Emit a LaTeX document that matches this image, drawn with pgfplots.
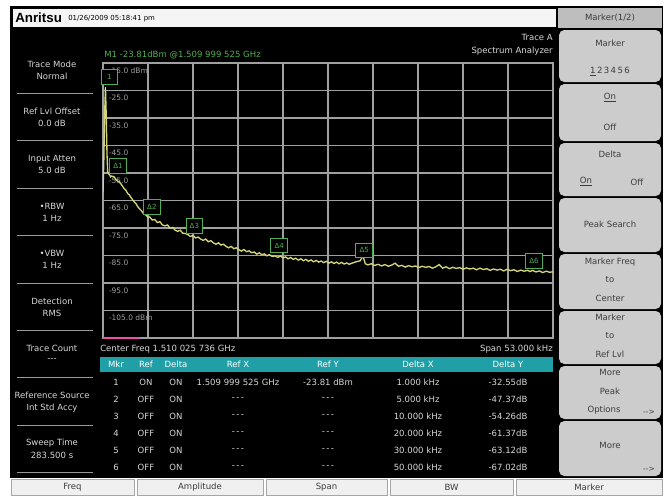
\documentclass[border=0pt]{standalone}
\usepackage{pgfplots}
\pgfplotsset{compat=1.18}
\usepackage{fontspec}
\setmainfont{DejaVu Sans}
\newfontfamily\logofont{Liberation Sans}

\definecolor{trace}{RGB}{214,212,120}
\definecolor{mkgreen}{RGB}{80,175,80}
\definecolor{gridgray}{RGB}{160,160,160}
\definecolor{hdrteal}{RGB}{32,160,166}
\definecolor{btngray}{RGB}{204,204,204}
\definecolor{hdrgray}{RGB}{190,190,190}
\definecolor{paneltext}{RGB}{215,215,215}
\definecolor{btntext}{RGB}{60,60,60}

\newcommand\ui{\fontsize{6.4}{7.5}\selectfont}
\newcommand\uis{\fontsize{5.6}{6.5}\selectfont}

\begin{document}
\begin{tikzpicture}
% screen frame, panels and texts (1 unit = 1 px of the screenshot, y downwards)
\begin{scope}[x=0.75pt,y=-0.75pt]
\useasboundingbox (0,0) rectangle (666,496);
\fill[white] (0,0) rectangle (666,496);
\fill[black] (10,6) rectangle (663,478);

% title bar
\fill[white!96!black] (13,9) rectangle (556,27);
\node[anchor=west, inner sep=0, font=\logofont\fontsize{10}{11}\selectfont\bfseries] at (15,18) {Anritsu};
\node[anchor=west, inner sep=0, font=\fontsize{5.2}{6}\selectfont] at (68,18.5) {01/26/2009 05:18:41 pm};

% right soft keys
\fill[hdrgray] (558,8) rectangle (662,28);
\node[font=\ui, text=btntext] at (610,18) {Marker(1/2)};
\foreach \t/\b in {30/82,84/141,143/196,198/252,254/309,311/364,366/419,421/476}
  \fill[btngray, rounded corners=4pt] (559,\t) rectangle (661,\b);
\begin{scope}[every node/.style={font=\ui, text=btntext}]
\node at (610,43) {Marker};
\node at (610,72) {\underline{1}\,2\,3\,4\,5\,6};
\node at (610,98) {\underline{On}};
\node at (610,127) {Off};
\node at (610,154) {Delta};
\node at (586,182) {\underline{On}};
\node at (637,182) {Off};
\node at (610,224) {Peak Search};
\node at (610,262) {Marker Freq};
\node at (610,280) {to};
\node at (610,298) {Center};
\node at (610,317) {Marker};
\node at (610,336) {to};
\node at (610,354) {Ref Lvl};
\node at (610,372) {More};
\node at (610,391) {Peak};
\node at (604,410) {Options};
\node[font=\uis] at (649,412) {-{}-{}>};
\node at (610,445) {More};
\node[font=\uis] at (649,469) {-{}-{}>};
\end{scope}

% left status panel
\foreach \i/\a/\b in {0/Trace Mode/Normal,1/Ref Lvl Offset/0.0 dB,2/Input Atten/5.0 dB,
    3/•RBW/1 Hz,4/•VBW/1 Hz,5/Detection/RMS,6/Trace Count/-{}-{}-,
    7/Reference Source/Int Std Accy,8/Sweep Time/283.500 s}{
  \pgfmathsetmacro\c{70+47.4*\i}
  \node[font=\ui, text=paneltext] at (52,\c-6) {\a};
  \node[font=\ui, text=paneltext] at (52,\c+6) {\b};
  \draw[gray!80, line width=0.8pt] (17,\c+23.5) -- (93,\c+23.5);
}

% header texts above the trace
\node[anchor=west, inner sep=0, font=\ui, text=mkgreen] at (104,55) {M1 -23.81dBm @1.509 999 525 GHz};
\node[anchor=east, inner sep=0, font=\ui, text=paneltext] at (553,37) {Trace A};
\node[anchor=east, inner sep=0, font=\ui, text=paneltext] at (553,51) {Spectrum Analyzer};

% marker table
\node[anchor=west, inner sep=0, font=\ui, text=paneltext] at (100,349) {Center Freq 1.510 025 736 GHz};
\node[anchor=east, inner sep=0, font=\ui, text=paneltext] at (553,349) {Span 53.000 kHz};
\fill[hdrteal] (100,357) rectangle (553,372);
\foreach \x/\t in {116/Mkr,146/Ref,176/Delta,238/Ref X,328/Ref Y,418/Delta X,508/Delta Y}
  \node[font=\ui, text=white] at (\x,364.5) {\t};
\foreach \r/\a/\b/\c/\d/\e/\f/\g in {
    0/1/ON/ON/1.509 999 525 GHz/-23.81 dBm/1.000 kHz/-32.55dB,
    1/2/OFF/ON/-\,-\,-/-\,-\,-/5.000 kHz/-47.37dB,
    2/3/OFF/ON/-\,-\,-/-\,-\,-/10.000 kHz/-54.26dB,
    3/4/OFF/ON/-\,-\,-/-\,-\,-/20.000 kHz/-61.37dB,
    4/5/OFF/ON/-\,-\,-/-\,-\,-/30.000 kHz/-63.12dB,
    5/6/OFF/ON/-\,-\,-/-\,-\,-/50.000 kHz/-67.02dB}{
  \pgfmathsetmacro\yy{382+17*\r}
  \node[font=\ui, text=paneltext] at (116,\yy) {\a};
  \node[font=\ui, text=paneltext] at (146,\yy) {\b};
  \node[font=\ui, text=paneltext] at (176,\yy) {\c};
  \node[font=\ui, text=paneltext] at (238,\yy) {\d};
  \node[font=\ui, text=paneltext] at (328,\yy) {\e};
  \node[font=\ui, text=paneltext] at (418,\yy) {\f};
  \node[font=\ui, text=paneltext] at (508,\yy) {\g};
}

% bottom main keys
\foreach \l/\r/\t in {11/134/Freq,137/263/Amplitude,266/387/Span,390/513/BW,516/662/Marker}{
  \fill[white!94!black, draw=gray!70] (\l,479) rectangle (\r,495);
  \node[font=\ui, text=btntext] at ({(\l+\r)/2},487) {\t};
}
\end{scope}

\begin{axis}[
  at={(77.25pt,-253.5pt)}, anchor=south west,
  scale only axis, width=337.5pt, height=206.25pt,
  xmin=0, xmax=53, ymin=-115, ymax=-15,
  axis background/.style={fill=black},
  axis line style={gridgray, line width=0.9pt},
  grid=major, major grid style={gridgray, line width=0.9pt},
  major tick length=0pt,
  xtick={0,5.3,10.6,15.9,21.2,26.5,31.8,37.1,42.4,47.7,53},
  xticklabels={},
  ytick={-115,-105,-95,-85,-75,-65,-55,-45,-35,-25,-15},
  yticklabels={,{-105.0 dBm},-95.0,-85.0,-75.0,-65.0,-55.0,-45.0,-35.0,-25.0,{-15.0 dBm}},
  yticklabel style={anchor=north west, font=\uis, text=gridgray, xshift=1pt},
]
% trace: level in dBm against offset from start frequency in kHz
\addplot[color=trace, line width=1pt] coordinates {
(0.00,-62.0) (0.10,-50.0) (0.20,-33.0) (0.289,-23.81) (0.38,-34.0) (0.47,-48.0)
(0.55,-54.5) (0.65,-55.2) (0.80,-55.8) (0.90,-56.4) (1.00,-56.1) (1.289,-56.36)
(1.5,-57.3) (1.7,-57.9) (1.9,-58.2) (2.1,-58.9) (2.3,-59.8) (2.5,-60.7)
(2.7,-61.3) (2.9,-62.4) (3.1,-63.0) (3.3,-63.9) (3.5,-64.8) (3.7,-65.6)
(3.9,-66.2) (4.1,-67.3) (4.3,-68.0) (4.5,-68.6) (4.7,-69.5) (4.9,-70.0)
(5.1,-70.4) (5.289,-71.18) (5.5,-71.0) (5.8,-72.1) (6.1,-71.9) (6.4,-73.0)
(6.7,-72.7) (7.0,-73.9) (7.3,-74.2) (7.6,-73.9) (7.9,-75.1) (8.2,-74.8)
(8.5,-75.8) (8.8,-76.2) (9.1,-75.8) (9.4,-76.9) (9.7,-77.0) (10.0,-77.4)
(10.289,-78.07) (10.6,-77.7) (10.9,-78.6) (11.2,-78.3) (11.5,-79.0) (11.8,-79.5)
(12.1,-79.0) (12.4,-80.0) (12.7,-79.6) (13.0,-80.4) (13.3,-80.9) (13.6,-80.4)
(13.9,-81.2) (14.2,-80.9) (14.5,-81.7) (14.8,-82.2) (15.1,-81.7) (15.4,-82.5)
(15.7,-82.2) (16.0,-82.9) (16.3,-83.4) (16.6,-82.8) (16.9,-83.6) (17.2,-83.3)
(17.5,-84.0) (17.8,-83.7) (18.1,-84.5) (18.4,-84.0) (18.7,-84.7) (19.0,-84.4)
(19.3,-85.1) (19.6,-84.7) (19.9,-85.3) (20.289,-85.18) (20.6,-85.7) (20.9,-85.2)
(21.2,-85.9) (21.5,-85.5) (21.8,-86.2) (22.1,-85.7) (22.4,-86.4) (22.7,-86.0)
(23.0,-86.7) (23.3,-86.2) (23.6,-86.9) (23.9,-86.4) (24.2,-87.1) (24.5,-86.6)
(24.8,-87.3) (25.1,-86.8) (25.4,-87.4) (25.7,-87.0) (26.0,-87.6) (26.3,-87.1)
(26.6,-87.8) (26.9,-87.3) (27.2,-87.9) (27.5,-87.4) (27.8,-88.0) (28.1,-87.5)
(28.4,-88.1) (28.7,-87.7) (29.0,-88.2) (29.3,-87.8) (29.6,-87.5) (29.9,-87.2)
(30.289,-86.93) (30.6,-85.1) (30.9,-88.0) (31.2,-88.4) (31.6,-88.0) (32.0,-88.6)
(32.4,-88.2) (32.8,-88.8) (33.2,-88.3) (33.6,-88.9) (34.0,-88.5) (34.4,-87.8)
(34.8,-88.9) (35.2,-88.6) (35.6,-89.2) (36.0,-88.7) (36.4,-89.1) (36.8,-88.8)
(37.2,-89.4) (37.6,-88.9) (38.0,-89.3) (38.4,-89.0) (38.8,-89.6) (39.2,-89.1)
(39.6,-88.3) (40.0,-89.6) (40.4,-89.1) (40.8,-89.8) (41.2,-89.3) (41.6,-89.7)
(42.0,-89.4) (42.4,-90.0) (42.8,-89.5) (43.2,-89.9) (43.6,-89.6) (44.0,-90.2)
(44.4,-89.6) (44.8,-90.1) (45.2,-89.8) (45.6,-90.4) (46.0,-89.9) (46.4,-90.3)
(46.8,-90.0) (47.2,-90.6) (47.6,-90.0) (48.0,-90.5) (48.4,-90.2) (48.8,-90.8)
(49.2,-90.3) (49.6,-90.7) (50.0,-90.4) (50.289,-90.83) (50.6,-90.4) (51.0,-91.0)
(51.4,-90.6) (51.8,-91.2) (52.2,-90.7) (52.6,-91.1) (53.0,-90.9)
};
% marker flags
\addplot[draw=none, mark=none, nodes near coords, point meta=explicit symbolic,
  nodes near coords style={anchor=south, draw=mkgreen, fill=black, text=mkgreen,
    font=\fontsize{5.3}{5.5}\selectfont, inner sep=1pt, minimum width=12.5pt,
    minimum height=11pt, line width=0.7pt, xshift=3pt, yshift=2pt}]
coordinates {
(0.289,-23.81) [1]
(1.289,-56.36) [Δ1]
(5.289,-71.18) [Δ2]
(10.289,-78.07) [Δ3]
(20.289,-85.18) [Δ4]
(30.289,-86.93) [Δ5]
(50.289,-90.83) [Δ6]
};
\end{axis}
\draw[magenta!70, line width=1pt] (77.25pt,-253.5pt) -- (105pt,-253.5pt);
\end{tikzpicture}
\end{document}
